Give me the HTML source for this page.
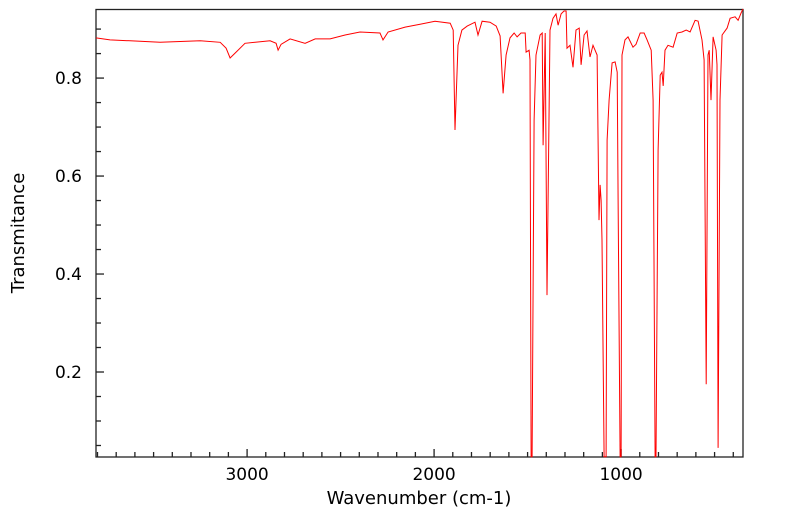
<!DOCTYPE html>
<html><head><meta charset="utf-8"><style>
body{margin:0;background:#fff;}
svg{display:block;font-family:"DejaVu Sans","Liberation Sans",sans-serif;}
</style></head><body>
<svg id="chart" width="799" height="516">
<rect x="96" y="9.5" width="647" height="447.5" fill="none" stroke="#222" stroke-width="1.3"/>
<g id="ticks"></g>
<path id="line" fill="none" stroke="#ff0000" stroke-width="1"/>
<text x="419" y="504" font-size="18" text-anchor="middle">Wavenumber (cm-1)</text>
<text transform="translate(24,233) rotate(-90)" font-size="18" text-anchor="middle">Transmitance</text>
</svg>
<script>
const wavenumbers=[3808,3733,3626,3465,3251,3144,3112,3091,3059,3011,2877,2845,2834,2818,2770,2690,2636,2556,2476,2396,2289,2273,2246,2155,2075,1995,1914,1898,1888,1872,1851,1823,1781,1765,1743,1701,1668,1647,1631,1615,1594,1572,1556,1535,1513,1508,1492,1487,1481,1476,1465,1455,1433,1422,1417,1406,1396,1380,1364,1348,1337,1321,1305,1294,1289,1273,1257,1241,1224,1214,1198,1182,1166,1150,1128,1118,1112,1107,1102,1091,1080,1075,1064,1048,1032,1021,1016,1005,1000,995,979,963,936,920,898,877,861,839,829,818,813,802,791,781,775,765,749,722,700,674,652,631,604,588,567,556,545,535,529,519,508,492,487,481,471,460,433,417,390,374,358,348];
const transmittance=[0.882,0.878,0.876,0.873,0.876,0.873,0.861,0.841,0.853,0.871,0.876,0.871,0.857,0.869,0.880,0.871,0.880,0.880,0.888,0.894,0.892,0.878,0.894,0.904,0.910,0.916,0.912,0.898,0.694,0.867,0.898,0.906,0.914,0.888,0.916,0.914,0.906,0.886,0.769,0.847,0.882,0.892,0.884,0.892,0.892,0.853,0.857,0.837,0.027,0.027,0.714,0.847,0.888,0.892,0.663,0.892,0.357,0.898,0.922,0.931,0.908,0.931,0.937,0.937,0.861,0.867,0.822,0.898,0.902,0.827,0.888,0.896,0.843,0.867,0.847,0.510,0.582,0.551,0.469,0.027,0.027,0.673,0.755,0.831,0.833,0.812,0.551,0.027,0.027,0.847,0.878,0.884,0.863,0.869,0.892,0.892,0.878,0.857,0.755,0.027,0.027,0.653,0.806,0.812,0.784,0.857,0.867,0.863,0.892,0.894,0.898,0.894,0.918,0.916,0.878,0.837,0.175,0.847,0.857,0.755,0.884,0.857,0.827,0.045,0.755,0.888,0.902,0.922,0.925,0.918,0.933,0.941];
const xTickLabels=[3000,2000,1000];
const yTickLabels=[0.2,0.4,0.6,0.8];
const X0=96,X1=743,Y0=457,Y1=9,WMAX=3808,WMIN=348,TMIN=0.0265,TMAX=0.941;
const xs=w=>X0+(WMAX-w)/(WMAX-WMIN)*(X1-X0);
const ys=t=>Y0-(t-TMIN)/(TMAX-TMIN)*(Y0-Y1);
const NS='http://www.w3.org/2000/svg';
const line=document.getElementById('line');
line.setAttribute('d',wavenumbers.map((w,i)=>(i?'L':'M')+xs(w).toFixed(1)+','+ys(transmittance[i]).toFixed(1)).join(''));
const g=document.getElementById('ticks');
function mk(tag,attrs){const e=document.createElementNS(NS,tag);for(const k in attrs)e.setAttribute(k,attrs[k]);g.appendChild(e);return e;}
for(let w=400;w<=3800;w+=100){const x=xs(w);const major=w%1000===0;
 const t=mk('line',{x1:x,x2:x,y1:Y0,y2:Y0-(major?8:5),stroke:'#222','stroke-width':1.3});
 
 }
xTickLabels.forEach(v=>{const t=mk('text',{x:xs(v),y:480,'font-size':17,'text-anchor':'middle'});t.textContent=v;
 
 });
for(let k=1;k<=18;k++){const v=k*0.05;if(v<TMIN||v>TMAX)continue;const y=ys(v);const major=k%4===0;
 const t=mk('line',{x1:X0,x2:X0+(major?8:5),y1:y,y2:y,stroke:'#222','stroke-width':1.3});
 
 }
yTickLabels.forEach(v=>{const t=mk('text',{x:82,y:ys(v)+6,'font-size':17,'text-anchor':'end'});t.textContent=v.toFixed(1);
 
 });
</script>
</body></html>
